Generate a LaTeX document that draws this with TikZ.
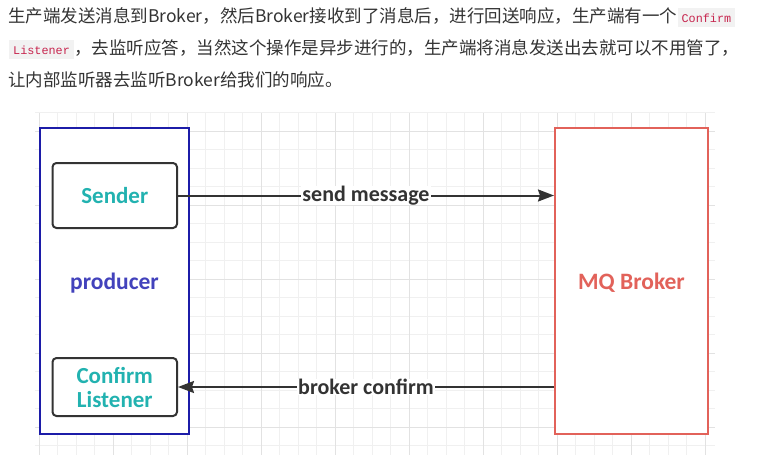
\documentclass[tikz,border=0pt]{standalone}
\usepackage{fontspec}
\setmainfont{Carlito}
\newfontfamily\cjkfont{Noto Sans CJK SC}
\newfontfamily\codefont{Liberation Mono}
\usetikzlibrary{arrows.meta}

\definecolor{txtgray}{HTML}{333333}
\definecolor{codered}{HTML}{C7254E}
\definecolor{codebg}{HTML}{F2F2F2}
\definecolor{prodblue}{HTML}{1C1CA8}
\definecolor{prodtext}{HTML}{4242BC}
\definecolor{brokred}{HTML}{E2625A}
\definecolor{partteal}{HTML}{22B2B0}
\definecolor{gridminor}{HTML}{F0F0F0}
\definecolor{gridmajor}{HTML}{E2E2E2}

\begin{document}
\begin{tikzpicture}[x=1pt, y=-1pt,
    para/.style={inner sep=0pt, anchor=base west, text=txtgray,
        font=\cjkfont\fontsize{17.5}{20}\selectfont},
    codebox/.style={anchor=base west, fill=codebg, text=codered,
        inner xsep=4pt, inner ysep=3.5pt, text height=10.5pt, text depth=1.5pt,
        font=\codefont\fontsize{11.8}{13}\selectfont},
    sidebox/.style={draw, line width=2pt, fill=white, minimum width=149pt,
        minimum height=306pt, text height=16pt, text depth=0pt,
        font=\bfseries\fontsize{23.5}{26}\selectfont},
    partbox/.style={draw=txtgray, line width=2pt, fill=white, rounded corners=4pt,
        minimum width=124.5pt, text=partteal, align=center,
        font=\bfseries\fontsize{23}{24}\selectfont},
    msg/.style={draw=txtgray, line width=2pt,
        -{Stealth[length=16pt, width=12pt, inset=2pt]}},
    msglabel/.style={fill=white, inner xsep=1pt, inner ysep=0pt, text=txtgray,
        font=\bfseries\fontsize{22}{24}\selectfont}]

    \useasboundingbox (0,0) rectangle (770,455);

    % Text above the diagram
    \node[para] (line1) at (8,22.2) {生产端发送消息到Broker，然后Broker接收到了消息后，进行回送响应，生产端有一个};
    \node[codebox] (cfmcode) at (line1.base east) {Confirm};
    \node[codebox] (lstcode) at (9,54.2) {Listener};
    \node[para] (line2) at (lstcode.base east) {，去监听应答，当然这个操作是异步进行的，生产端将消息发送出去就可以不用管了，};
    \node[para] (line3) at (8,86.2) {让内部监听器去监听Broker给我们的响应。};

    % Grid
    \foreach \k in {0,...,36}
        \draw[gridminor, line width=0.8pt] (39+18.5*\k,113) -- (39+18.5*\k,455);
    \foreach \k in {0,...,18}
        \draw[gridminor, line width=0.8pt] (35,112.8+18.5*\k) -- (715,112.8+18.5*\k);
    \foreach \k in {0,...,9}
        \draw[gridmajor, line width=0.8pt] (39+74*\k,113) -- (39+74*\k,455);
    \foreach \k in {0,...,4}
        \draw[gridmajor, line width=0.8pt] (35,131.3+74*\k) -- (715,131.3+74*\k);

    % Producer and broker
    \node[sidebox, draw=prodblue, text=prodtext] (prod) at (114.5,281) {producer};
    \node[sidebox, draw=brokred, text=brokred, minimum width=153pt] (brk) at (631.5,281) {MQ Broker};

    % Parts of the producer
    \node[partbox, minimum height=65pt] (snd) at (114.75,195.5) {Sender};
    \node[partbox, minimum height=58pt] (lsn) at (114.75,387) {Confirm\\Listener};

    % Messages
    \draw[msg] (snd.east) -- (snd.east -| brk.west)
        node[msglabel, midway] (sndlbl) {send message};
    \draw[msg] (lsn.east -| brk.west) -- (lsn.east)
        node[msglabel, midway] (cfmlbl) {broker confirm};

\end{tikzpicture}
\end{document}
